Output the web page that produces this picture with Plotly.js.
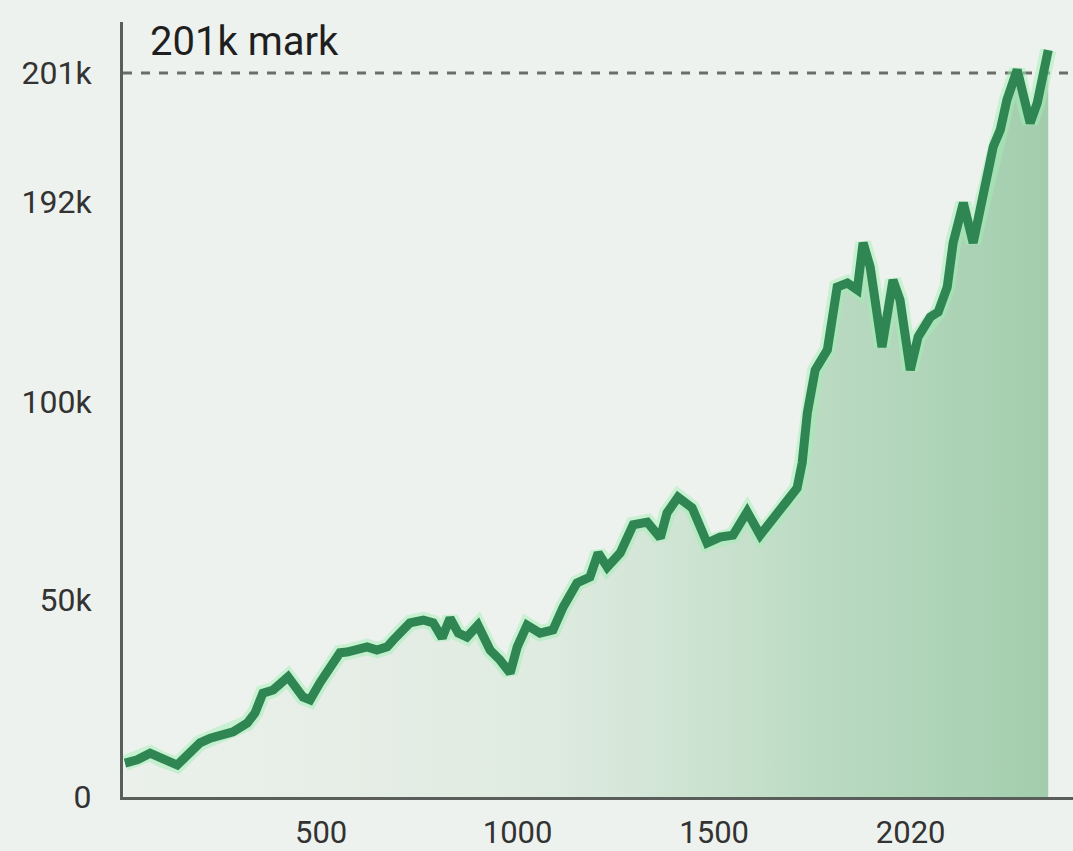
<!DOCTYPE html>
<html>
<head>
<meta charset="utf-8">
<script src="https://cdn.plot.ly/plotly-3.0.1.min.js"></script>
<style>
  html, body { margin: 0; padding: 0; background: #eef2ee; }
  #chart { width: 1073px; height: 851px; }
</style>
</head>
<body>
<div id="chart"></div>
<script>
// x positions (axis units) and values (axis units as drawn; the y axis uses custom tick labels)
const xValues = [1, 32, 65, 98, 134, 192, 218, 276, 312, 332, 352, 378, 416, 454, 472, 497, 548, 566, 617, 642,
  668, 683, 726, 760, 785, 808, 828, 849, 871, 899, 930, 955, 981, 999, 1024, 1057, 1090, 1116, 1151, 1184,
  1205, 1228, 1261, 1294, 1330, 1363, 1380, 1408, 1444, 1482, 1515, 1548, 1584, 1617, 1650, 1681, 1711, 1724,
  1737, 1752, 1757, 1788, 1813, 1839, 1864, 1879, 1897, 1927, 1955, 1973, 1999, 2019, 2050, 2070, 2093, 2108,
  2134, 2159, 2184, 2210, 2228, 2245, 2271, 2286, 2304, 2322, 2337, 2350];
const yValues = [8.6, 9.4, 11.1, 9.4, 8.1, 13.7, 14.9, 16.5, 18.7, 21.3, 26.3, 27.1, 30.4, 25.3, 24.6, 28.9, 36.5, 36.7, 38.0, 37.2,
  38.0, 39.7, 44.1, 44.8, 44.1, 40.3, 45.3, 41.5, 40.5, 43.5, 37.2, 34.7, 31.4, 38.0, 43.5, 41.5, 42.3, 48.1, 54.2, 55.7,
  61.8, 58.2, 61.8, 68.9, 69.6, 65.6, 71.9, 75.9, 73.2, 64.3, 65.8, 66.3, 72.2, 66.3, 70.1, 74.4, 78.2, 84.6,
  97.2, 105.6, 108.1, 113.2, 129.1, 130.1, 128.4, 140.3, 134.2, 113.9, 130.9, 125.8, 108.1, 116.5, 121.5, 122.8, 129.1, 140.3,
  150.4, 140.3, 151.1, 164.6, 168.9, 176.5, 184.1, 177.2, 170.6, 175.7, 182.3, 189.1];

const yTickVals = [0, 50, 100, 150.6, 183.3];
const yTickText = ["0", "50k", "100k", "192k", "201k"];
const xTickVals = [500, 1000, 1500, 2000];
const xTickText = ["500", "1000", "1500", "2020"];
const markLevel = 183.3;
const markLabel = "201k mark";

const traces = [
  {
    x: xValues, y: yValues, type: 'scatter', mode: 'lines',
    line: { width: 0, color: 'rgba(0,0,0,0)' },
    fill: 'tozeroy',
    fillgradient: {
      type: 'horizontal',
      colorscale: [[0, 'rgba(226,234,227,0.25)'], [0.45, 'rgba(208,228,211,0.5)'], [0.75, 'rgba(172,212,182,0.78)'], [1, 'rgba(152,200,164,0.88)']]
    },
    hoverinfo: 'skip', showlegend: false
  },
  {
    x: xValues, y: yValues, type: 'scatter', mode: 'lines',
    line: { width: 16, color: 'rgba(160,240,180,0.5)', shape: 'linear' },
    hoverinfo: 'skip', showlegend: false
  },
  {
    x: xValues, y: yValues, type: 'scatter', mode: 'lines',
    line: { width: 9, color: '#2f8652', shape: 'linear' },
    showlegend: false
  }
];

const layout = {
  width: 1073, height: 851,
  paper_bgcolor: '#eef2ee', plot_bgcolor: '#eef2ee',
  margin: { l: 123, r: 0, t: 22, b: 54 },
  font: { family: 'Roboto, Arial, sans-serif', color: '#333' },
  xaxis: {
    range: [-4, 2413], showgrid: false, zeroline: false,
    showline: true, linecolor: '#5a5e5a', linewidth: 3,
    tickvals: xTickVals, ticktext: xTickText, ticks: '',
    ticklabelstandoff: 6,
    tickfont: { size: 31, color: '#333', family: 'Roboto, Arial, sans-serif' }
  },
  yaxis: {
    range: [0, 196.2], showgrid: false, zeroline: false,
    showline: true, linecolor: '#5a5e5a', linewidth: 3,
    tickvals: yTickVals, ticktext: yTickText, ticks: '',
    ticklabelstandoff: 22,
    tickfont: { size: 32, color: '#333', family: 'Roboto, Arial, sans-serif' }
  },
  shapes: [
    { type: 'line', xref: 'paper', x0: 0, x1: 1, yref: 'y', y0: markLevel, y1: markLevel,
      line: { color: '#6a6d6a', width: 3, dash: 'dash' }, layer: 'below' }
  ],
  annotations: [
    { text: markLabel, xref: 'paper', x: 0.026, xanchor: 'left', yref: 'paper', y: 0.975, yanchor: 'middle',
      showarrow: false, font: { size: 40, color: '#1f1f1f', family: 'Roboto, Arial, sans-serif' } }
  ]
};

Plotly.newPlot('chart', traces, layout, { displayModeBar: false, staticPlot: true });
</script>
</body>
</html>
